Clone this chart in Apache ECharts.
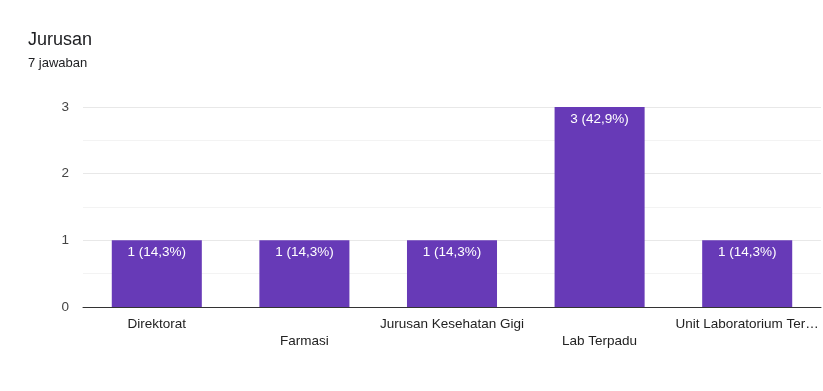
<!DOCTYPE html>
<html>
<head>
<meta charset="utf-8">
<script src="https://cdn.jsdelivr.net/npm/echarts@6/dist/echarts.min.js"></script>
<style>
html,body{margin:0;padding:0;background:#fff;}
#c{width:823px;height:391px;}
</style>
</head>
<body>
<div id="c"></div>
<script>
var titleText = 'Jurusan';
var subtitleText = '7 jawaban';
var categories = ['Direktorat', 'Farmasi', 'Jurusan Kesehatan Gigi', 'Lab Terpadu', 'Unit Laboratorium Terpadu'];
var counts = [1, 1, 1, 3, 1];
var percents = ['14,3%', '14,3%', '14,3%', '42,9%', '14,3%'];
var yTicks = [0, 1, 2, 3];

var chart = echarts.init(document.getElementById('c'));
var font = '"Liberation Sans", Arial, sans-serif';
chart.setOption({
  animation: false,
  title: [
    {text: titleText, left: 23, top: 26, textStyle: {fontFamily: font, fontSize: 18, fontWeight: 'normal', color: '#202124'}},
    {text: subtitleText, left: 23, top: 52, textStyle: {fontFamily: font, fontSize: 13, fontWeight: 'normal', color: '#202124'}}
  ],
  grid: {left: 83, right: 2, top: 107, bottom: 84, containLabel: false},
  xAxis: {
    type: 'category',
    data: categories,
    axisTick: {show: false},
    axisLine: {lineStyle: {color: '#333', width: 1}},
    axisLabel: {
      interval: 0,
      margin: 9,
      fontFamily: font, fontSize: 13.5, color: '#222', lineHeight: 17,
      formatter: function (v, i) {
        var s = v.length > 22 ? v.slice(0, 21) + '…' : v;
        return i % 2 === 1 ? '\n' + s : s;
      }
    }
  },
  yAxis: {
    type: 'value',
    min: yTicks[0],
    max: yTicks[yTicks.length - 1],
    interval: 1,
    axisLine: {show: false},
    axisTick: {show: false},
    axisLabel: {margin: 14, fontFamily: font, fontSize: 13.5, color: '#444'},
    splitLine: {lineStyle: {color: '#e8e8e8'}},
    minorTick: {show: false, splitNumber: 2},
    minorSplitLine: {show: true, lineStyle: {color: '#f3f3f3'}}
  },
  series: [{
    type: 'bar',
    data: counts,
    barWidth: '61%',
    itemStyle: {color: '#673ab7'},
    label: {
      show: true,
      position: 'insideTop',
      distance: 5,
      fontFamily: font, fontSize: 13.5, color: '#fff',
      formatter: function (p) { return p.value + ' (' + percents[p.dataIndex] + ')'; }
    }
  }]
});
</script>
</body>
</html>
